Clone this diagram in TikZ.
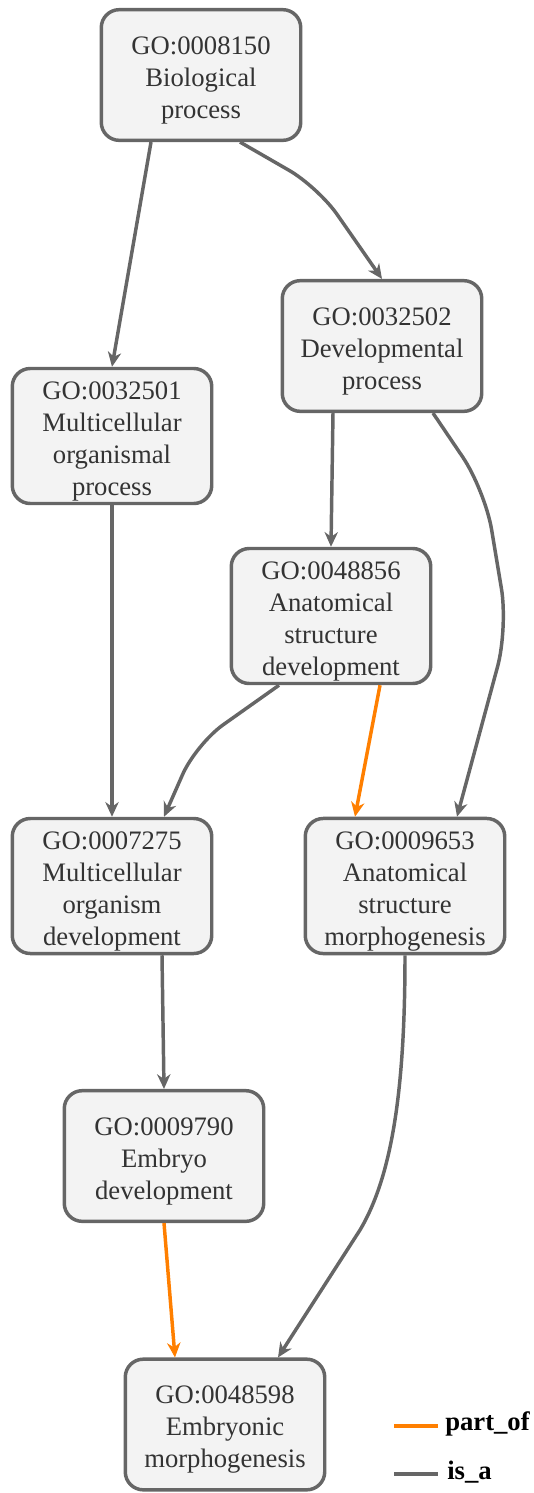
\documentclass[tikz,border=0pt]{standalone}
\usepackage{fontspec}
\setmainfont{Liberation Serif}
\usetikzlibrary{arrows.meta,calc}
\definecolor{edgegray}{HTML}{666666}
\definecolor{boxfill}{HTML}{F3F3F3}
\definecolor{textgray}{HTML}{333333}
\definecolor{partorange}{HTML}{FF7F00}
% extra room above the first line of a term label
\newcommand{\gostrut}{\rule{0pt}{21pt}}
\begin{document}
\begin{tikzpicture}[x=0.75pt,y=-0.75pt,
  term/.style={draw=edgegray, fill=boxfill, line width=2.6pt, rounded corners=13.5pt,
    minimum width=149.6pt, minimum height=98pt, align=center, text=textgray,
    font=\fontsize{20pt}{24pt}\selectfont, inner sep=2pt},
  isa/.style={draw=edgegray, line width=2.6pt,
    -{Stealth[length=11pt,width=10pt,inset=3.5pt]}},
  partof/.style={isa, draw=partorange, fill=partorange},
  legendtext/.style={anchor=west, inner sep=0pt, text=black,
    font=\fontsize{20pt}{24pt}\selectfont\bfseries},
  legendline/.style={line width=3pt},
]
\useasboundingbox (0,0) rectangle (533,1493);

% GO terms
\node[term] (n1) at (201,75)    {\gostrut GO:0008150\\Biological\\process};
\node[term] (n2) at (382,346)   {\gostrut GO:0032502\\Developmental\\process};
\node[term] (n3) at (112,436)   {\gostrut GO:0032501\\Multicellular\\organismal\\process};
\node[term] (n4) at (331,616)   {\gostrut GO:0048856\\Anatomical\\structure\\development};
\node[term] (n5) at (112,886)   {\gostrut GO:0007275\\Multicellular\\organism\\development};
\node[term] (n6) at (405,886)   {\gostrut GO:0009653\\Anatomical\\structure\\morphogenesis};
\node[term] (n7) at (164,1156)  {\gostrut GO:0009790\\Embryo\\development};
\node[term] (n8) at (225,1424.5){\gostrut GO:0048598\\Embryonic\\morphogenesis};

% is_a relations
\draw[isa] ($(n1.south)+(-50,0)$) -- (n3.north);
\draw[isa, rounded corners=25pt] ($(n1.south)+(39,0)$) -- (318,187) -- (n2.north);
\draw[isa] ($(n2.south)+(-49,0)$) -- (n4.north);
\draw[isa, rounded corners=30pt] ($(n2.south)+(51,0)$) -- (485,490) -- (508,628)
  -- ($(n6.north)+(52,0)$);
\draw[isa] (n3.south) -- (n5.north);
\draw[isa, rounded corners=25pt] ($(n4.south)+(-52,0)$) -- (196,744)
  -- ($(n5.north)+(52,0)$);
\draw[isa] ($(n5.south)+(50,0)$) -- (n7.north);
\draw[isa] (n6.south) .. controls (405,1090) and (392,1176) .. (360,1230)
  -- ($(n8.north)+(53,0)$);

% part_of relations
\draw[partof] ($(n4.south)+(49,0)$) -- ($(n6.north)+(-50,0)$);
\draw[partof] (n7.south) -- ($(n8.north)+(-50,0)$);

% legend
\node[legendtext] (lp) at (445,1424) {part\_of};
\node[legendtext] (li) at (447,1472) {is\_a};
\coordinate (lpa) at (394,1426);
\coordinate (lpb) at (438,1426);
\coordinate (lia) at (394,1474);
\coordinate (lib) at (438,1474);
\draw[legendline, partorange] (lpa) -- (lpb);
\draw[legendline, edgegray] (lia) -- (lib);
\end{tikzpicture}
\end{document}
